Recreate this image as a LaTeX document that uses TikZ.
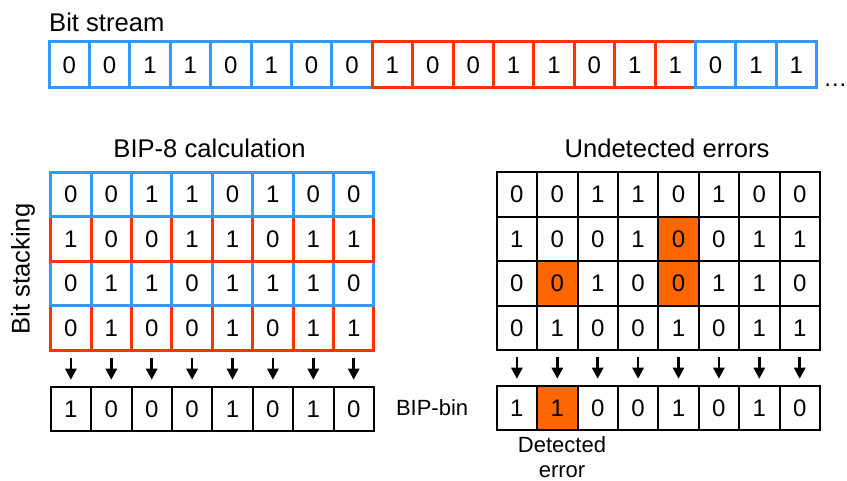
\documentclass[tikz,border=0pt]{standalone}
\usepackage{fontspec}
\setmainfont{Liberation Sans}
\usetikzlibrary{arrows.meta,positioning}
\definecolor{bipblue}{RGB}{51,153,255}
\definecolor{bipred}{RGB}{255,51,0}
\definecolor{biporange}{RGB}{255,102,0}

\begin{document}
\begin{tikzpicture}[
  x=1pt,y=-1pt,
  every node/.style={font=\fontsize{24}{26}\selectfont},
  title/.style={font=\fontsize{25.6}{28}\selectfont},
  note/.style={font=\fontsize{22}{25}\selectfont},
  bit/.style={draw,line width=2pt,minimum width=40.4pt,
              minimum height=44.5pt,inner sep=0pt},
  bitb/.style={bit,draw=bipblue,line width=3pt},
  bitr/.style={bit,draw=bipred,line width=3pt},
  flip/.style={bit,fill=biporange},
  arr/.style={-{Triangle[width=11pt,length=11pt]},line width=2.5pt,
              shorten <=6pt,shorten >=6pt},
]
\useasboundingbox (0,0) rectangle (847,481);

% bit stream
\node[title,anchor=base west,inner sep=0pt] (stream) at (49,31.5) {Bit stream};
\foreach \b/\s [count=\i] in {0/bitb,0/bitb,1/bitb,1/bitb,0/bitb,1/bitb,0/bitb,0/bitb,
    1/bitr,0/bitr,0/bitr,1/bitr,1/bitr,0/bitr,1/bitr,1/bitr,0/bitb,1/bitb,1/bitb}
  \node[\s,minimum height=46pt] (s\i) at ({49+40.4*(\i-0.5)},65) {\b};
\node[anchor=base west,inner sep=0pt] (more) at ([xshift=5pt,yshift=3pt]s19.south east) {…};

% stacked bytes, bottom row first
\node[title,anchor=base] (calc) at (209.5,158) {BIP-8 calculation};
\node[title,rotate=90] (stack) at (23,269) {Bit stacking};
\foreach \r/\s/\bits in {4/bitr/{0,1,0,0,1,0,1,1},3/bitb/{0,1,1,0,1,1,1,0},
    2/bitr/{1,0,0,1,1,0,1,1},1/bitb/{0,0,1,1,0,1,0,0}}
  \foreach \b [count=\c] in \bits
    \node[\s] (l-\r-\c) at ({50.7+40.4*(\c-0.5)},{172.3+44.5*(\r-0.5)}) {\b};
\foreach \b [count=\c] in {1,0,0,0,1,0,1,0} {
  \node[bit] (lr-\c) at ({50.7+40.4*(\c-0.5)},409) {\b};
  \draw[arr] (l-4-\c) -- (lr-\c);
}

% same bytes with flipped bits
\node[title,anchor=base] (undet) at (667,158) {Undetected errors};
\foreach \r/\bits in {1/{0/bit,0/bit,1/bit,1/bit,0/bit,1/bit,0/bit,0/bit},
    2/{1/bit,0/bit,0/bit,1/bit,0/flip,0/bit,1/bit,1/bit},
    3/{0/bit,0/flip,1/bit,0/bit,0/flip,1/bit,1/bit,0/bit},
    4/{0/bit,1/bit,0/bit,0/bit,1/bit,0/bit,1/bit,1/bit}}
  \foreach \b/\s [count=\c] in \bits
    \node[\s] (r-\r-\c) at ({496.7+40.4*(\c-0.5)},{172.3+44.5*(\r-0.5)}) {\b};
\foreach \b/\s [count=\c] in {1/bit,1/flip,0/bit,0/bit,1/bit,0/bit,1/bit,0/bit} {
  \node[\s] (rr-\c) at ({496.7+40.4*(\c-0.5)},408) {\b};
  \draw[arr] (r-4-\c) -- (rr-\c);
}
\node[note,left=24pt of rr-1] (bin) {BIP-bin};
\node[note,anchor=north,inner sep=0pt,align=center] (det) at (562,436) {Detected\\error};
\end{tikzpicture}
\end{document}
